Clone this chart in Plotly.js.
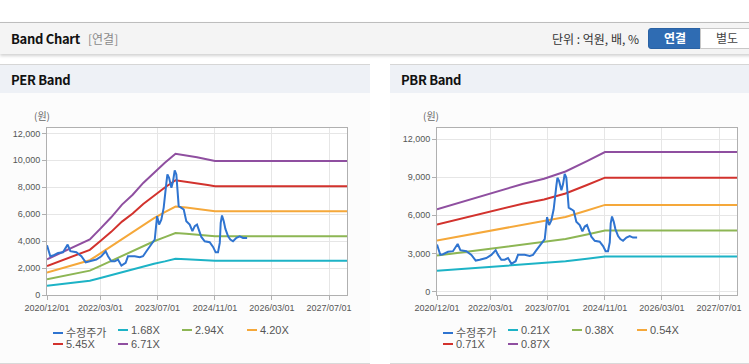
<!DOCTYPE html>
<html>
<head>
<meta charset="utf-8">
<script src="https://cdn.plot.ly/plotly-3.0.1.min.js"></script>
<style>
  html, body { margin:0; padding:0; background:#ffffff; width:749px; height:364px; overflow:hidden; }
  body { position:relative; font-family:"Liberation Sans","Noto Sans CJK KR",sans-serif; }
  .topbar { position:absolute; left:0; top:22px; width:760px; height:31px; background:#f4f4f4;
            border-top:1px solid #bdbdbd; box-shadow:0 2px 3px rgba(0,0,0,0.18); }
  .topbar .ttl { position:absolute; left:11px; top:6px; font:700 13px "Noto Sans CJK KR",sans-serif; color:#111; letter-spacing:-0.3px; }
  .topbar .sub { position:absolute; left:88px; top:7px; font:400 12px "Noto Sans CJK KR",sans-serif; color:#8a8a8a; }
  .topbar .unit { position:absolute; left:552px; top:7px; font:400 12px "Noto Sans CJK KR",sans-serif; color:#333; }
  .btn { position:absolute; top:5px; height:19px; line-height:19px; text-align:center; font:700 12px "Noto Sans CJK KR",sans-serif; }
  .btn.on { left:648px; width:52px; background:#2f6cb3; color:#fff; border:1px solid #2a62a4; border-radius:3px 0 0 3px; }
  .btn.off { left:700px; width:52px; background:#fff; color:#444; border:1px solid #c8c8c8; font-weight:400; }
  .panel { position:absolute; top:64px; height:298px; background:#fcfcfc; border-top:1px solid #d6d6d6; border-bottom:1px solid #d9d9d9; }
  .panel .ph { position:absolute; left:0; top:0; right:0; height:28px; background:#eef1f6; }
  .panel .ph span { position:absolute; left:11px; top:5px; font:700 13px "Noto Sans CJK KR",sans-serif; color:#111; letter-spacing:-0.3px; }
  .chart { position:absolute; top:28px; left:0; height:268px; }
  .legend { position:absolute; left:0; top:259px; width:100%; height:30px; }
  .li { position:absolute; height:12px; line-height:12px; overflow:visible; font:400 11px "Liberation Sans","Noto Sans CJK KR",sans-serif; color:#555; white-space:nowrap; }
  .li i { display:inline-block; width:10px; height:2px; vertical-align:middle; margin-right:3px; position:relative; top:-1px; }
</style>
</head>
<body>

<div class="topbar">
  <div class="ttl">Band Chart</div>
  <div class="sub">[연결]</div>
  <div class="unit">단위 : 억원, 배, %</div>
  <div class="btn on">연결</div>
  <div class="btn off">별도</div>
</div>

<div class="panel" id="pL" style="left:0; width:370px;">
  <div class="ph"><span>PER Band</span></div>
  <div class="chart" id="perChart" style="width:370px;"></div>
  <div class="legend" id="perLegend"></div>
</div>

<div class="panel" id="pR" style="left:390px; width:370px;">
  <div class="ph"><span>PBR Band</span></div>
  <div class="chart" id="pbrChart" style="width:359px;"></div>
  <div class="legend" id="pbrLegend"></div>
</div>

<script>
// ---------- shared adjusted price (수정주가) ----------
const priceName = '수정주가';
const priceDates = ['2020-12-01','2020-12-29','2021-01-21','2021-03-05','2021-04-16','2021-05-26','2021-06-18','2021-08-08','2021-09-20','2021-10-27','2021-11-30','2022-01-25','2022-03-09','2022-04-15','2022-05-05','2022-06-02','2022-07-01','2022-07-29','2022-08-27','2022-10-02','2022-10-22','2022-12-18','2023-01-30','2023-02-27','2023-03-28','2023-05-09','2023-06-07','2023-06-27','2023-07-14','2023-08-02','2023-08-22','2023-09-14','2023-09-23','2023-10-07','2023-10-27','2023-11-10','2023-11-24','2023-12-08','2023-12-22','2023-12-28','2024-01-20','2024-02-09','2024-03-02','2024-03-31','2024-04-23','2024-05-13','2024-06-01','2024-06-24','2024-07-08','2024-08-06','2024-09-17','2024-10-16','2024-11-07','2024-11-27','2024-12-12','2024-12-20','2024-12-31','2025-01-15','2025-01-29','2025-02-21','2025-03-12','2025-04-04','2025-05-03','2025-05-31','2025-06-28','2025-08-02'];
const priceVals = [3700,2880,2930,3120,3170,3740,3250,3170,2880,2430,2500,2630,2880,3250,2880,2500,2500,2630,2180,2380,2880,2880,2800,2880,3250,3740,4120,5850,5230,5600,6470,8330,8950,8700,7960,8450,9250,8950,7460,6600,6470,6350,5480,5230,4740,5110,5230,4610,4310,3990,3920,3570,3170,3170,3870,5360,5900,5480,4910,4360,4120,3990,4240,4360,4240,4240];

// ---------- PER band ----------
const perBandDates = ['2020-12-01','2021-03-01','2021-06-01','2021-09-01','2021-12-01','2022-03-01','2022-06-01','2022-09-01','2022-12-01','2023-03-01','2023-06-01','2023-09-01','2023-12-01','2024-03-01','2024-06-01','2024-09-01','2024-11-01','2027-12-01'];
const perNames = ['1.68X','2.94X','4.20X','5.45X','6.71X'];
const per168 = [680,773,869,965,1059,1266,1481,1722,1912,2135,2325,2497,2692,2661,2626,2583,2552,2552];
const per294 = [1161,1320,1485,1646,1808,2161,2528,2940,3263,3646,3990,4300,4595,4542,4484,4410,4357,4357];
const per420 = [1659,1886,2121,2352,2583,3087,3612,4200,4662,5208,5700,6150,6565,6489,6405,6300,6224,6224];
const per545 = [2153,2447,2752,3052,3352,4006,4687,5450,6050,6758,7400,7980,8518,8420,8311,8175,8077,8077];
const per671 = [2650,3013,3389,3758,4127,4932,5771,6710,7448,8320,9100,9820,10488,10367,10233,10065,9944,9944];

// ---------- PBR band ----------
const pbrBandDates = ['2020-12-01','2021-06-01','2021-12-01','2022-06-01','2022-12-01','2023-06-01','2023-12-01','2024-06-01','2024-11-01','2027-12-01'];
const pbrNames = ['0.21X','0.38X','0.54X','0.71X','0.87X'];
const pbr021 = [1620,1750,1870,2000,2125,2230,2375,2580,2760,2760];
const pbr038 = [2823,3040,3253,3477,3697,3876,4127,4484,4796,4796];
const pbr054 = [4012,4320,4622,4941,5254,5508,5864,6372,6815,6815];
const pbr071 = [5275,5680,6078,6497,6908,7242,7711,8378,8960,8960];
const pbr087 = [6464,6960,7447,7961,8465,8874,9448,10266,10979,10979];

// ---------- axes ----------
const xTickVals = ['2020-12-01','2022-03-01','2023-07-01','2024-11-01','2026-03-01','2027-07-01'];
const xRange = ['2020-12-01','2027-12-01'];
const perYTicks = [0,2000,4000,6000,8000,10000,12000];
const pbrYTicks = [0,3000,6000,9000,12000];
const yUnit = '(원)';

const colors = { price:'#2f74d0', b1:'#1db3c6', b2:'#8db654', b3:'#f5a83a', b4:'#d2322d', b5:'#8f4fa0' };
const bandColors = [colors.b1, colors.b2, colors.b3, colors.b4, colors.b5];

function lineTrace(x, y, name, color) {
  return { type:'scatter', mode:'lines', x:x, y:y, name:name,
           line:{ color:color, width:2 }, hoverinfo:'skip' };
}

function makeLayout(yTicks, yRange, rMargin, unitShift) {
  const tickFont = { family:'"Liberation Sans", Arial, sans-serif', size:9, color:'#555' };
  return {
    margin: { l:47, r:rMargin, t:35, b:66 },
    paper_bgcolor:'rgba(0,0,0,0)',
    plot_bgcolor:'#ffffff',
    showlegend:false,
    xaxis: {
      type:'date', range:xRange, tickvals:xTickVals, tickformat:'%Y/%m/%d',
      showgrid:true, gridcolor:'#e6e6e6', gridwidth:1,
      showline:true, linecolor:'#b0b0b0', linewidth:1, mirror:true,
      ticks:'outside', ticklen:4, tickcolor:'#b0b0b0',
      tickfont:tickFont, zeroline:false, fixedrange:true
    },
    yaxis: {
      range:yRange, tickvals:yTicks, tickformat:',d',
      showgrid:true, gridcolor:'#e6e6e6', gridwidth:1,
      showline:true, linecolor:'#b0b0b0', linewidth:1, mirror:true,
      ticks:'outside', ticklen:4, tickcolor:'#b0b0b0',
      tickfont:tickFont, zeroline:false, fixedrange:true
    },
    annotations: [{
      text:yUnit, xref:'paper', yref:'paper', x:0, y:1, xanchor:'center', yanchor:'bottom',
      xshift:unitShift, yshift:3, showarrow:false,
      font:{ family:'"Noto Sans CJK KR", sans-serif', size:10, color:'#666' }
    }]
  };
}

function buildLegend(el, names, cols) {
  const xs = [53, 118, 182, 247];
  names.forEach((n, i) => {
    const d = document.createElement('div');
    d.className = 'li';
    d.style.left = xs[i % 4] + 'px';
    d.style.top = (Math.floor(i / 4) * 14) + 'px';
    d.innerHTML = '<i style="background:' + cols[i] + '"></i>' + n;
    el.appendChild(d);
  });
}

const perTraces = [
  lineTrace(perBandDates, per168, perNames[0], bandColors[0]),
  lineTrace(perBandDates, per294, perNames[1], bandColors[1]),
  lineTrace(perBandDates, per420, perNames[2], bandColors[2]),
  lineTrace(perBandDates, per545, perNames[3], bandColors[3]),
  lineTrace(perBandDates, per671, perNames[4], bandColors[4]),
  lineTrace(priceDates, priceVals, priceName, colors.price)
];
const pbrTraces = [
  lineTrace(pbrBandDates, pbr021, pbrNames[0], bandColors[0]),
  lineTrace(pbrBandDates, pbr038, pbrNames[1], bandColors[1]),
  lineTrace(pbrBandDates, pbr054, pbrNames[2], bandColors[2]),
  lineTrace(pbrBandDates, pbr071, pbrNames[3], bandColors[3]),
  lineTrace(pbrBandDates, pbr087, pbrNames[4], bandColors[4]),
  lineTrace(priceDates, priceVals, priceName, colors.price)
];

const perLayout = makeLayout(perYTicks, [0, 12400], 23, -5);
perLayout.width = 370; perLayout.height = 268;
const pbrLayout = makeLayout(pbrYTicks, [-280, 12870], 12, -6);
pbrLayout.width = 359; pbrLayout.height = 268;

Plotly.newPlot('perChart', perTraces, perLayout, { displayModeBar:false, staticPlot:true });
Plotly.newPlot('pbrChart', pbrTraces, pbrLayout, { displayModeBar:false, staticPlot:true });

buildLegend(document.getElementById('perLegend'), [priceName].concat(perNames), [colors.price].concat(bandColors));
buildLegend(document.getElementById('pbrLegend'), [priceName].concat(pbrNames), [colors.price].concat(bandColors));
</script>
</body>
</html>
